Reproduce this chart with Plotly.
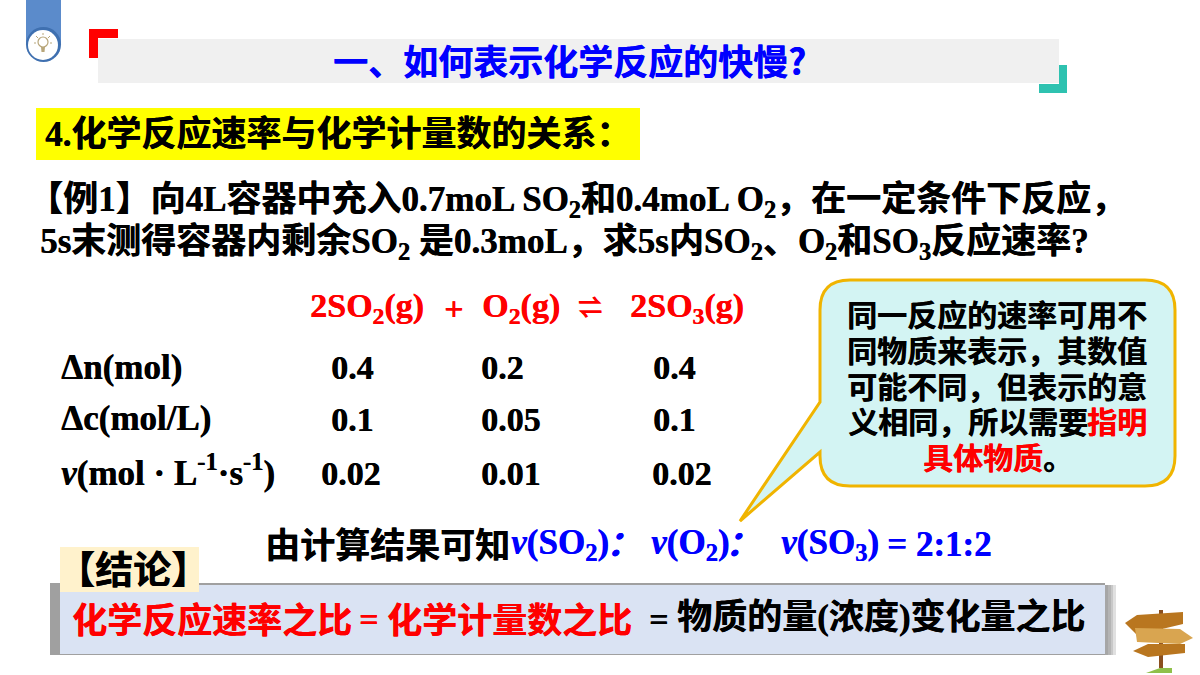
import plotly.graph_objects as go

COMMA = "\uff0c"
COLON = "\uff1a"

# slide text
title = "一、如何表示化学反应的快慢?"
heading = "4.化学反应速率与化学计量数的关系" + COLON
question_1 = "【例1】向4L容器中充入0.7moL SO<sub>2</sub>和0.4moL O<sub>2</sub>" + COMMA + "在一定条件下反应" + COMMA
question_2 = ("5s末测得容器内剩余SO<sub>2</sub> 是0.3moL" + COMMA
              + "求5s内SO<sub>2</sub>、O<sub>2</sub>和SO<sub>3</sub>反应速率?")
equation_parts = ["2SO<sub>2</sub>(g)", "+", "O<sub>2</sub>(g)", "⇌", "2SO<sub>3</sub>(g)"]
row_labels = ["Δn(mol)", "Δc(mol/L)", "<i>v</i>(mol · L<sup>-1</sup>·s<sup>-1</sup>)"]
delta_n = ["0.4", "0.2", "0.4"]
delta_c = ["0.1", "0.05", "0.1"]
rate_v = ["0.02", "0.01", "0.02"]
callout_lines = ["同一反应的速率可用不", "同物质来表示" + COMMA + "其数值", "可能不同" + COMMA + "但表示的意"]
callout_line_4 = ["义相同" + COMMA + "所以需要", "指明"]
callout_line_5 = ["具体物质", "。"]
result_lead = "由计算结果可知"
result_parts = ["<i>v</i>(SO<sub>2</sub>)", "<i>" + COLON + "</i>", "<i>v</i>(O<sub>2</sub>)", "<i>" + COLON + "</i>",
                "<i>v</i>(SO<sub>3</sub>)", "= 2:1:2"]
conclusion_tag = "【结论】"
conclusion_red = ["化学反应速率之比", "=", "化学计量数之比"]
conclusion_black = ["=", "物质的量(浓度)变化量之比"]

FONT = "Liberation Serif, Noto Sans CJK SC, DejaVu Sans"
SANS = "Noto Sans CJK SC, Liberation Sans"
RED = "#ff0000"
BLUE = "#0000ff"
BLACK = "#000000"

fig = go.Figure()


def rect(x0, y0, x1, y1, color):
    fig.add_shape(type="rect", x0=x0, y0=y0, x1=x1, y1=y1, fillcolor=color, line_width=0, layer="below")


def path(d, fill="rgba(0,0,0,0)", line=None, width=0):
    fig.add_shape(type="path", path=d, fillcolor=fill, line=dict(color=line or fill, width=width), layer="below")


def circle(x0, y0, x1, y1, fill="rgba(0,0,0,0)", line=None, width=0):
    fig.add_shape(type="circle", x0=x0, y0=y0, x1=x1, y1=y1, fillcolor=fill,
                  line=dict(color=line or fill, width=width), layer="below")


def label(x, y, text, size, color=BLACK, anchor="left", family=FONT):
    # thin shadow in the text colour, the slide text is a bit heavier than plain bold
    fig.add_annotation(x=x, y=y, text="<b>" + text + "</b>", showarrow=False, xanchor=anchor, yanchor="middle",
                       borderpad=0, borderwidth=0,
                       font=dict(size=size, color=color, family=family, shadow="0.5px 0 0 " + color))


# blue tab with the light bulb
rect(26, 0, 61, 44, "#5b8bcb")
circle(26, 27, 61, 62, "#3f70b0")
circle(28, 30, 58, 60, "#ffffff")
circle(38, 37, 48, 47, line="#b8a67a", width=1.2)
path("M41,47 L45,47 L44.5,52 L41.5,52 Z", fill="#b8a67a")
path("M43,33 L43,35 M36,36 L38,38 M50,36 L48,38 M34,43 L36,43 M52,43 L50,43", line="#b8a67a", width=1)

# title bar and corner marks
rect(98, 39, 1059, 83, "#f0f0f0")
path("M89,29 L118,29 L118,38 L98,38 L98,58 L89,58 Z", fill=RED)
path("M1059,65 L1067,65 L1067,93 L1039,93 L1039,84 L1059,84 Z", fill="#2ec2b0")
label(333, 59, title, 35, BLUE, family=SANS)

# heading
rect(36, 108, 640, 160, "#ffff00")
label(45, 134, heading, 35)

# example question
label(28, 201, question_1, 35)
label(40, 243, question_2, 35)

# reaction table
for x, part, size in zip([310, 444, 482, 578, 630], equation_parts, [34, 34, 34, 24, 34]):
    label(x, 308, part, size, RED)
for y, row in zip([367, 418, 470], row_labels):
    label(61, y, row, 35)
for x, val in zip([331, 481, 653], delta_n):
    label(x, 367, val, 34)
for x, val in zip([331, 481, 653], delta_c):
    label(x, 419, val, 34)
for x, val in zip([321, 481, 652], rate_v):
    label(x, 473, val, 34)

# callout
path("M850,280 L1145,280 Q1175,280 1175,310 L1175,456 Q1175,486 1145,486 L850,486 "
     "Q820,486 820,456 L820,452 L740,521 L820,402 L820,310 Q820,280 850,280 Z",
     fill="#d3f4f3", line="#f0b400", width=3)
for y, line in zip([313, 349, 385], callout_lines):
    label(997, y, line, 30, anchor="center", family=SANS)
label(848, 420, callout_line_4[0], 30, family=SANS)
label(1087, 420, callout_line_4[1], 30, RED, family=SANS)
label(923, 456, callout_line_5[0], 30, RED, family=SANS)
label(1043, 456, callout_line_5[1], 30, family=SANS)

# result line
label(265, 542, result_lead, 35, family=SANS)
for x, part in zip([511, 606, 651, 725, 781, 887], result_parts):
    label(x, 544, part, 35, BLUE)

# conclusion box with its soft shadow
rect(50, 583, 1105, 655, "#a0a0a0")
for x, shade in zip([1105, 1108, 1111, 1113], ["#a6a6a6", "#b4b4b4", "#c8c8c8", "#e0e0e0"]):
    rect(x, 585, x + 3, 655, shade)
rect(60, 585, 1105, 654, "#dae3f3")
rect(60, 547, 199, 592, "#fff2cc")
label(57, 566, conclusion_tag, 38, family=SANS)
label(72, 617, conclusion_red[0], 35, RED, family=SANS)
label(359, 619, conclusion_red[1], 34, RED)
label(387, 617, conclusion_red[2], 35, RED, family=SANS)
label(649, 619, conclusion_black[0], 34)
label(677, 617, conclusion_black[1], 35)

# signpost
path("M1159,610 L1163,610 L1163,668 L1159,668 Z", fill="#8a4f1f")
path("M1125,623 L1137,615 L1183,612 L1183,624 L1137,635 Z", fill="#b9761f")
path("M1135,628 L1180,629 L1193,638 L1180,644 L1137,642 Z", fill="#d9a550")
path("M1133,651 L1148,644 L1185,644 L1185,653 L1148,657 Z", fill="#b9761f")
path("M1146,673 L1160,668 L1172,668 L1172,673 Z", fill="#8fc04a")

fig.update_xaxes(range=[0, 1200], visible=False, fixedrange=True)
fig.update_yaxes(range=[675, 0], visible=False, fixedrange=True)
fig.update_layout(width=1200, height=675, margin=dict(l=0, r=0, t=0, b=0), plot_bgcolor="#ffffff",
                  paper_bgcolor="#ffffff", showlegend=False)

# the page body has its own margin, drop it so the slide fills the window
fig.write_html("out.html", config={"displayModeBar": False}, post_script="document.body.style.margin = '0';")
